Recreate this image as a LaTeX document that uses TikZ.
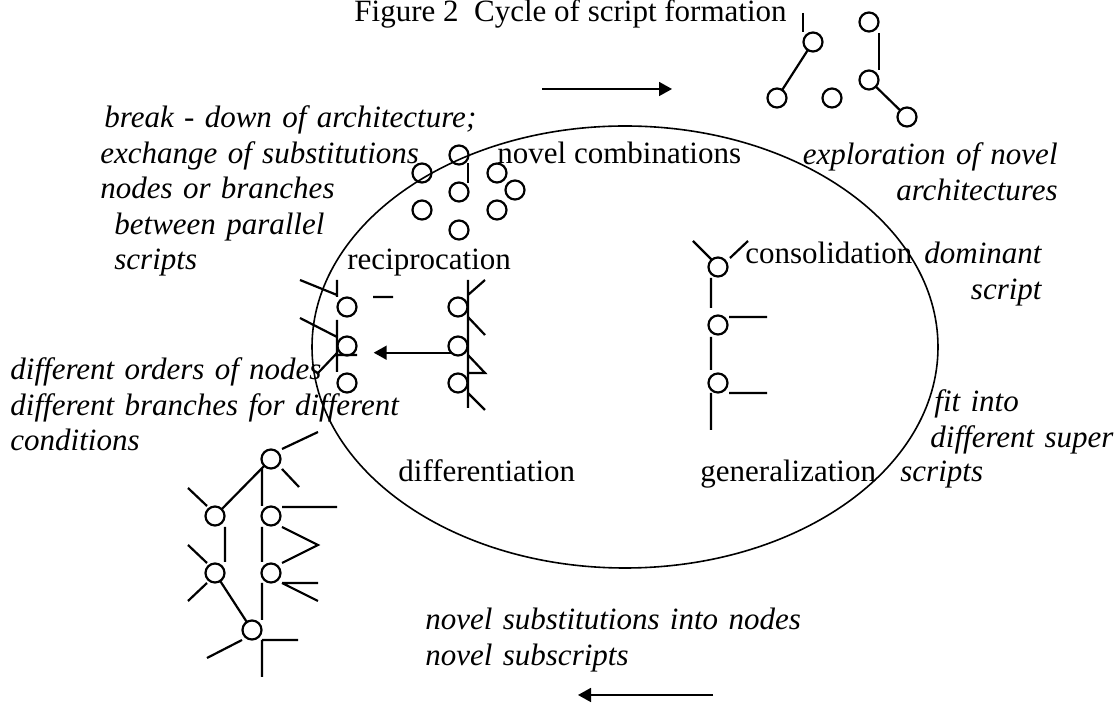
\documentclass[tikz,border=0pt]{standalone}
\usepackage{fontspec}
\setmainfont{Liberation Serif}
\usetikzlibrary{arrows.meta}

\begin{document}
\begin{tikzpicture}[x=0.5pt,y=-0.5pt,
 font=\fontsize{15.5}{17.75}\selectfont,
 knot/.style={circle,draw,line width=1.1pt,minimum size=9.5pt,inner sep=0pt,outer sep=0pt},
 stub/.style={line width=1.1pt},
 phase/.style={anchor=base west,inner sep=0pt},
 remark/.style={anchor=base west,inner sep=0pt,align=left,text width=200pt,font=\fontsize{15.5}{17.75}\selectfont\itshape},
 >={Triangle[length=6.5pt,width=7pt]}]
\useasboundingbox (0,0) rectangle (1116,705);

% title and cycle
\node[anchor=base east,inner sep=0pt] (title) at (787,22) {Figure 2~~Cycle of script formation};
\draw[line width=0.8pt] (625,347) ellipse [x radius=313,y radius=221];

% phase names
\node[phase] (novel) at (497,164) {novel combinations};
\node[phase] (recip) at (347,270) {reciprocation};
\node[phase] (consol) at (745,264) {consolidation};
\node[phase] (diff) at (398,482) {differentiation};
\node[phase] (gen) at (700,482) {generalization};

% italic remarks
\node[remark] (breakdown) at (100,128) {\hspace*{2pt}break - down of architecture;\\exchange of substitutions\\nodes or branches\\\hspace*{7pt}between parallel\\\hspace*{7pt}scripts};
\node[remark,align=right,text width=160pt,anchor=base east] (explore) at (1058,165) {exploration of novel\\architectures};
\node[remark,align=right,text width=70pt,anchor=base east] (dom) at (1042,264) {dominant\\script};
\node[remark] (fit) at (930,412) {\hspace*{2pt}fit into\\different super};
\node[remark] (fitb) at (900,482) {scripts};
\node[remark] (orders) at (10,380) {different orders of nodes\\different branches for different\\conditions};
\node[remark] (subst) at (425,630) {novel substitutions into nodes\\novel subscripts};

% direction arrows
\coordinate (topL) at (542,89);
\coordinate (topR) at (672,89);
\draw[->,line width=0.85pt] (topL) -- (topR);
\coordinate (botR) at (713,695);
\coordinate (botL) at (578,695);
\draw[->,line width=0.85pt] (botR) -- (botL);

% exploration: loose pieces
\foreach \n/\x/\y in {a1/813/42,a2/777/98,a3/832/98,a4/869/22,a5/869/80,a6/907/117}
 \node[knot] (\n) at (\x,\y) {};
\draw[stub] (803,13) -- (803,32) (879,33) -- (879,70);
\draw[stub] (a1) -- (a2) (a5) -- (a6);

% novel combinations: scattered nodes
\foreach \n/\x/\y in {c1/459/155,c2/422/173,c3/497/173,c4/459/192,c5/515/190,c6/422/210,c7/497/210,c8/459/230}
 \node[knot] (\n) at (\x,\y) {};
\draw[stub] (468,163) -- (468,183);

% reciprocation: two parallel scripts
\foreach \n/\y in {1/307,2/346,3/383} {
 \node[knot] (r\n) at (347,\y) {};
 \node[knot] (s\n) at (458,\y) {};
}
\draw[stub] (337,280) -- (337,297) (300,280) -- (337,295)
 (337,320) -- (337,372) (300,318) -- (337,337)
 (337,355) -- (357,355) (337,353) -- (318,373)
 (373,297) -- (393,297);
\draw[stub] (468,280) -- (468,408) (468,295) -- (485,280)
 (468,317) -- (485,335) (468,355) -- (485,373) -- (468,373)
 (468,393) -- (485,410);
\draw[->,line width=0.85pt,shorten >=10pt] (s2.south west) -- (r2.south east);

% consolidation: dominant script
\foreach \n/\y in {1/267,2/325,3/383}
 \node[knot] (k\n) at (718,\y) {};
\draw[stub] (693,241) -- (712,260) (748,241) -- (730,258)
 (711,278) -- (711,308) (729,317) -- (767,317)
 (711,337) -- (711,370) (729,393) -- (767,393)
 (711,393) -- (711,430);

% differentiation: branching tree
\foreach \n/\x/\y in {t1/271/459,t2/215/516,t3/271/516,t4/215/573,t5/271/573,t6/252/630}
 \node[knot] (\n) at (\x,\y) {};
\draw[stub] (t1) -- (t2) (t4) -- (t6);
\draw[stub] (282,449) -- (318,432) (282,469) -- (299,487)
 (262,469) -- (262,506) (188,488) -- (207,506)
 (225,527) -- (225,562) (282,507) -- (337,507)
 (282,527) -- (318,545) -- (282,563) (262,527) -- (262,562)
 (188,545) -- (207,563) (207,583) -- (188,601)
 (282,583) -- (318,583) (282,583) -- (318,601)
 (262,583) -- (262,620)
 (242,640) -- (207,658) (262,640) -- (298,640) (262,640) -- (262,677);
\end{tikzpicture}
\end{document}
